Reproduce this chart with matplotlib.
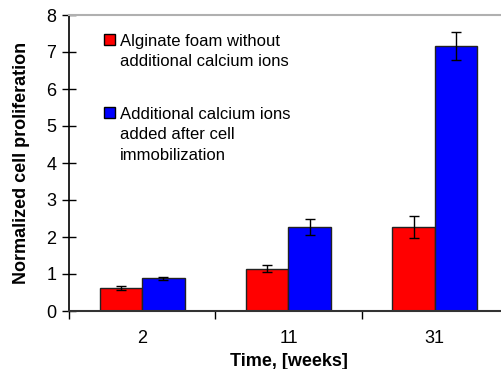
import matplotlib

matplotlib.use("Agg")
import matplotlib.pyplot as plt
import numpy as np
from matplotlib.patches import Rectangle

plt.rcParams["font.family"] = ["Liberation Sans", "DejaVu Sans"]

weeks = ["2", "11", "31"]
no_calcium = [0.63, 1.14, 2.27]
no_calcium_err = [0.05, 0.09, 0.31]
with_calcium = [0.88, 2.27, 7.16]
with_calcium_err = [0.03, 0.22, 0.37]
labels = ["Alginate foam without\nadditional calcium ions",
          "Additional calcium ions\nadded after cell\nimmobilization"]
colors = ["#ff0000", "#0000ff"]

W, H = 502, 369
fig = plt.figure(figsize=(W / 100, H / 100), dpi=100)
ax = fig.add_axes([69 / W, (H - 311) / H, (508 - 69) / W, (311 - 15) / H])

x = np.arange(len(weeks))
bw = 0.29
err_kw = dict(ecolor="black", capsize=3.5, elinewidth=1.0, capthick=1.0)
ax.bar(x - bw / 2, no_calcium, bw, yerr=no_calcium_err, color=colors[0],
       edgecolor="#222222", linewidth=1.0, error_kw=err_kw, zorder=2)
ax.bar(x + bw / 2, with_calcium, bw, yerr=with_calcium_err, color=colors[1],
       edgecolor="#222222", linewidth=1.0, error_kw=err_kw, zorder=2)

ax.set_xlim(-0.5, len(weeks) - 0.5)
ax.set_ylim(0, 8)
ax.set_yticks(range(0, 9))
ax.tick_params(axis="y", direction="inout", length=10, width=1.0, labelsize=13,
               pad=4)
ax.set_xticks(x)
ax.set_xticklabels(weeks)
ax.tick_params(axis="x", length=0, labelsize=13, pad=14)
ax.set_xticks(np.arange(len(weeks) + 1) - 0.5, minor=True)
ax.tick_params(axis="x", which="minor", direction="out", length=6, width=1.0)

ax.spines["right"].set_visible(False)
ax.spines["top"].set_color("#b0b0b0")
ax.spines["top"].set_linewidth(1.5)
ax.spines["left"].set_linewidth(1.2)
ax.spines["bottom"].set_linewidth(1.5)
ax.spines["bottom"].set_color("#333333")

ax.set_ylabel("Normalized cell proliferation", fontsize=13, fontweight="bold",
              labelpad=12)
ax.set_xlabel("Time, [weeks]", fontsize=13, fontweight="bold", labelpad=4)

# hand-placed legend: patch aligned with first text line, like the original
for (py, ty), lab, c in zip([(34, 34), (107, 107)], labels, colors):
    fig.patches.append(Rectangle((104 / W, 1 - (py + 11) / H), 11 / W, 11 / H,
                                 transform=fig.transFigure, facecolor=c,
                                 edgecolor="black", linewidth=1.0))
    fig.text(120 / W, 1 - ty / H, lab, fontsize=12, va="top", ha="left",
             linespacing=1.45)

fig.savefig("out.png", dpi=100)
